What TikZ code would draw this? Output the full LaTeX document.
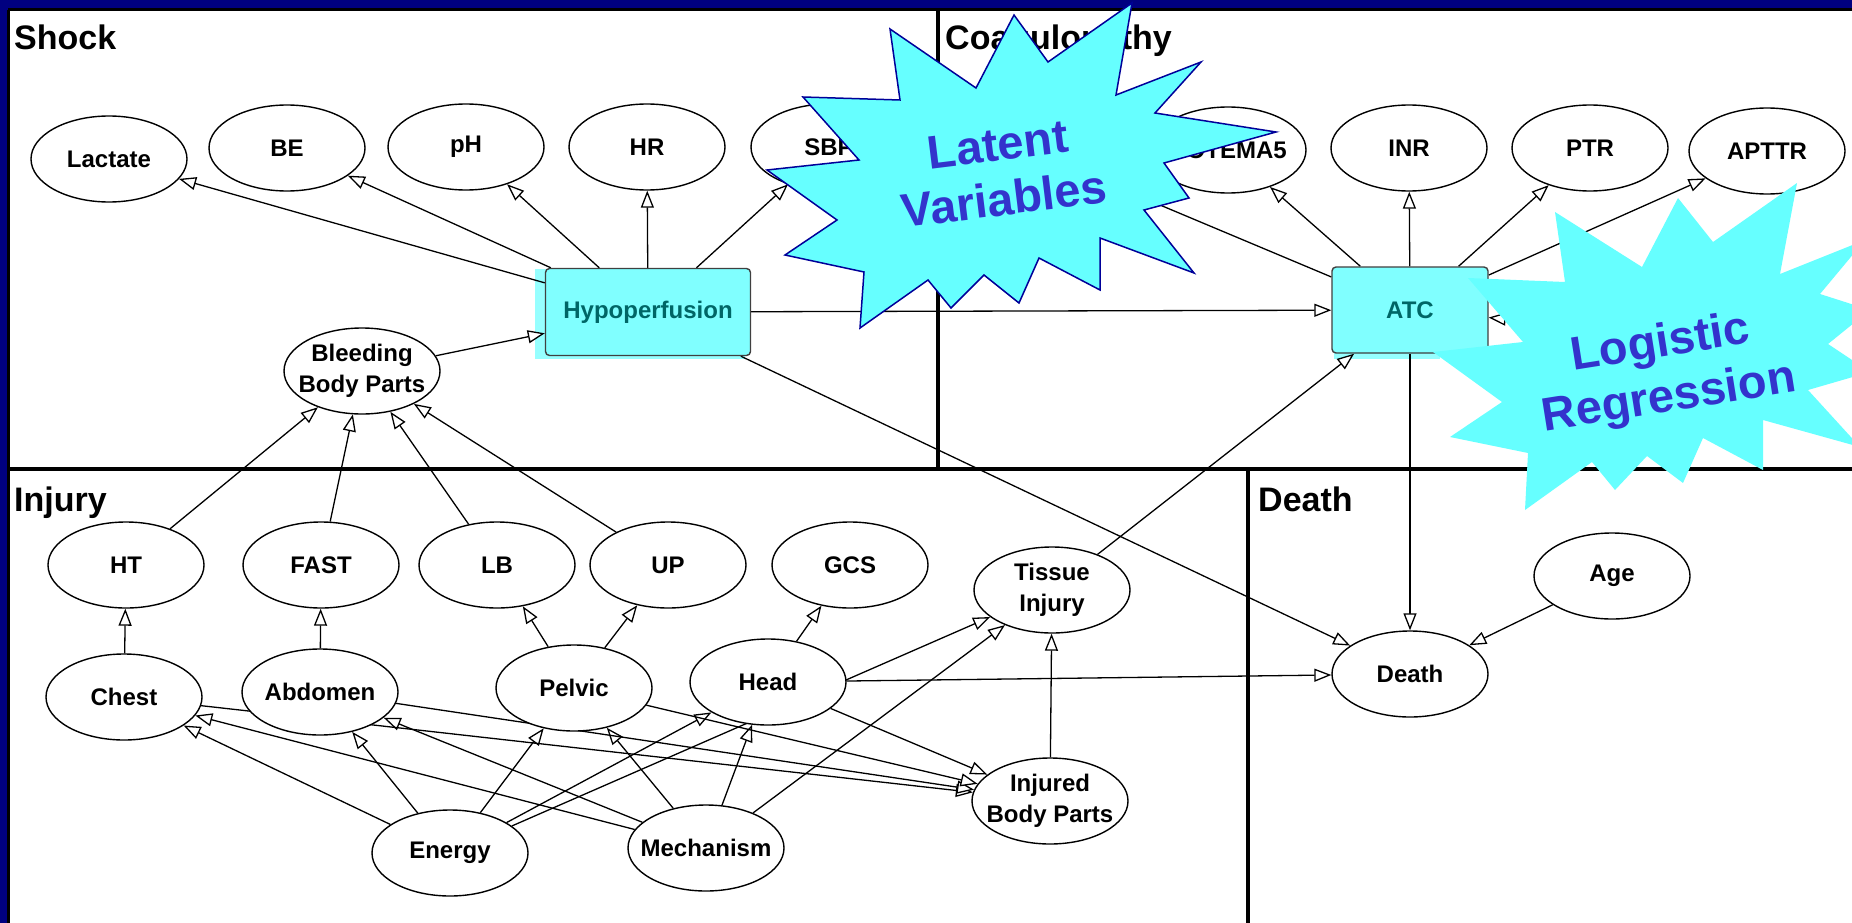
\documentclass[tikz,border=0pt]{standalone}
\usepackage{fontspec}
\setmainfont{Liberation Sans}
\usetikzlibrary{shapes.geometric,arrows.meta}

\definecolor{navyframe}{RGB}{0,0,128}
\definecolor{burstcyan}{RGB}{102,255,255}
\definecolor{burstline}{RGB}{0,0,153}
\definecolor{bursttext}{RGB}{51,51,204}
\definecolor{boxcyan}{RGB}{128,255,255}
\definecolor{hlcyan}{RGB}{150,255,255}
\definecolor{boxtext}{RGB}{0,102,102}

\newcommand\nodefont{\fontsize{24}{31}\selectfont\bfseries}
\newcommand\panelfont{\fontsize{34}{40}\selectfont\bfseries}
\newcommand\burstfont{\fontsize{47}{55}\selectfont\bfseries}

\pgfdeclarelayer{back}
\pgfdeclarelayer{edges}
\pgfdeclarelayer{front}
\pgfsetlayers{back,edges,main,front}

\tikzset{
  var/.style={ellipse, draw, line width=1.4pt, fill=white, minimum width=156pt,
    minimum height=86pt, inner xsep=-16pt, inner ysep=0pt, align=center, font=\nodefont},
  latent/.style={draw=black!75, line width=1.4pt, rounded corners=4pt, fill=boxcyan,
    text=boxtext, inner sep=0pt, font=\nodefont},
  edge/.style={line width=1.3pt, -{Triangle[fill=white, length=17pt, width=13pt]}},
  region/.style={anchor=base west, inner sep=0pt, font=\panelfont},
  burst/.style={fill=burstcyan},
  burstlabel/.style={align=center, text=bursttext, inner sep=0pt, font=\burstfont}
}

\begin{document}
\begin{tikzpicture}[x=1pt,y=-1pt]
\useasboundingbox (0,0) rectangle (1852,923);

\begin{pgfonlayer}{back}
\fill[navyframe] (0,0) rectangle (1852,923);
\fill[white] (8,10) rectangle (1852,923);
\draw[line width=3pt] (8,10) -- (1852,10);
\draw[line width=3pt] (8,10) -- (8,923);
\draw[line width=3.5pt] (938,10) -- (938,469);
\draw[line width=3.5pt] (8,469) -- (1852,469);
\draw[line width=3.5pt] (1248,469) -- (1248,923);
\fill[hlcyan] (535,269) rectangle (745,359);
\fill[hlcyan] (1334,268) rectangle (1440,359);
\end{pgfonlayer}

\node[region] (shocklbl) at (14,50) {Shock};
\node[region] (coaglbl) at (945,50) {Coagulopathy};
\node[region] (injurylbl) at (14,511) {Injury};
\node[region] (deathlbl) at (1258,511) {Death};

\node[var] (lactate) at (109,159) {Lactate};
\node[var] (be) at (287,148) {BE};
\node[var] (ph) at (466,147) {pH};
\node[var] (hr) at (647,147) {HR};
\node[var] (sbp) at (829,147) {SBP};
\node[latent, minimum width=205pt, minimum height=87pt] (hypo) at (648,312) {Hypoperfusion};
\node[var] (bbp) at (362,371) {Bleeding\\Body Parts};

\node[var] (rotem) at (1228,150) {ROTEMA5};
\node[var] (inr) at (1409,148) {INR};
\node[var] (ptr) at (1590,148) {PTR};
\node[var] (apttr) at (1767,151) {APTTR};
\node[latent, minimum width=156pt, minimum height=86pt] (atc) at (1410,310) {ATC};
\coordinate (hidL) at (1029,150);
\coordinate (hidR) at (1620,330);

\node[var] (ht) at (126,565) {HT};
\node[var] (fast) at (321,565) {FAST};
\node[var] (lb) at (497,565) {LB};
\node[var] (up) at (668,565) {UP};
\node[var] (gcs) at (850,565) {GCS};
\node[var] (chest) at (124,697) {Chest};
\node[var] (abdomen) at (320,692) {Abdomen};
\node[var] (pelvic) at (574,688) {Pelvic};
\node[var] (head) at (768,682) {Head};
\node[var] (energy) at (450,853) {Energy};
\node[var] (mech) at (706,848) {Mechanism};
\node[var] (tissue) at (1052,590) {Tissue\\Injury};
\node[var] (ibp) at (1050,801) {Injured\\Body Parts};

\node[var] (death) at (1410,674) {Death};
\node[var] (age) at (1612,576) {Age};

\begin{pgfonlayer}{edges}
\foreach \t in {lactate,be,ph,hr,sbp} \draw[edge] (hypo) -- (\t);
\foreach \t in {rotem,inr,ptr,apttr} \draw[edge] (atc) -- (\t);
\draw[edge] (atc) -- (hidL);
\draw[edge] (hidR) -- (atc);
\draw[edge] (bbp) -- (hypo);
\draw[edge] (hypo) -- (atc);
\draw[edge] (hypo) -- (death);
\draw[edge] (atc) -- (death);
\foreach \s in {ht,fast,lb,up} \draw[edge] (\s) -- (bbp);
\draw[edge] (chest) -- (ht);
\draw[edge] (abdomen) -- (fast);
\draw[edge] (pelvic) -- (lb);
\draw[edge] (pelvic) -- (up);
\draw[edge] (head) -- (gcs);
\foreach \t in {chest,abdomen,pelvic,head,tissue} {
  \draw[edge] (energy) -- (\t);
  \draw[edge] (mech) -- (\t);
}
\foreach \s in {chest,abdomen,pelvic,head} \draw[edge] (\s) -- (ibp);
\draw[edge] (ibp) -- (tissue);
\draw[edge] (tissue) -- (atc);
\draw[edge] (head) -- (death);
\draw[edge] (age) -- (death);
\end{pgfonlayer}

\begin{pgfonlayer}{front}
\draw[burst, draw=burstline, line width=1.5pt] (1132,3) -- (1116,95) -- (1201,62) -- (1155,113)
  -- (1276,132) -- (1164,163) -- (1189,198) -- (1144,210) -- (1194,273) -- (1100,238)
  -- (1100,290) -- (1039,258) -- (1019,303) -- (984,275) -- (951,308) -- (928,280)
  -- (860,328) -- (864,272) -- (785,255) -- (837,220) -- (767,170) -- (859,160)
  -- (803,97) -- (900,100) -- (890,29) -- (976,88) -- (1014,15) -- (1048,62) -- cycle;
\node[burstlabel, rotate=7] (latentlbl) at (1001,172) {Latent\\Variables};
\fill[burst] (1555,212) -- (1642,267) -- (1678,198) -- (1713,242) -- (1797,183) -- (1780,274)
  -- (1865,240) -- (1820,294) -- (1870,310) -- (1828,344) -- (1870,372) -- (1808,390)
  -- (1860,447) -- (1763,420) -- (1763,470) -- (1703,438) -- (1683,483) -- (1647,456)
  -- (1615,490) -- (1592,462) -- (1525,510) -- (1528,453) -- (1450,437) -- (1502,402)
  -- (1433,352) -- (1523,342) -- (1468,278) -- (1565,282) -- cycle;
\node[burstlabel, rotate=9] (logitlbl) at (1665,372) {Logistic\\Regression};
\end{pgfonlayer}
\end{tikzpicture}
\end{document}
